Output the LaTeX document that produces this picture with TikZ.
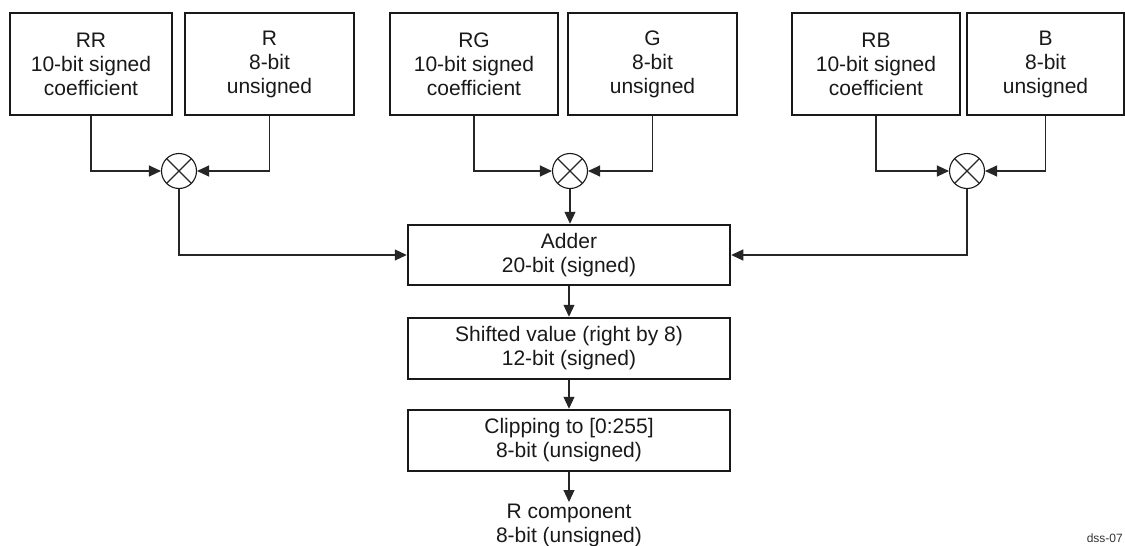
\documentclass[tikz,border=0pt]{standalone}
\usepackage{fontspec}
\setmainfont{Liberation Sans}
\usetikzlibrary{arrows.meta}
\begin{document}
\begin{tikzpicture}[x=1pt,y=-1pt,
  every node/.style={font=\fontsize{21}{24}\selectfont, text=black!90, align=center},
  srcbox/.style={draw=black!90, line width=2.5pt, minimum height=102pt, inner sep=0pt},
  procbox/.style={draw=black!90, line width=2.5pt, minimum width=322pt, minimum height=60pt, inner sep=0pt},
  mult/.style={draw=black!90, circle, line width=1.1pt, minimum size=35pt, inner sep=0pt},
  conn/.style={draw=black!85, line width=1.1pt, -{Triangle[length=12pt,width=11pt]}},
  plain/.style={draw=black!85, line width=1.1pt}
]
\useasboundingbox (0,0) rectangle (1125,546);
\fill[white] (0,0) rectangle (1125,546);

% source boxes
\node[srcbox, minimum width=162pt] (RR) at (91,64) {RR\\10-bit signed\\coefficient};
\node[srcbox, minimum width=169pt] (R)  at (269.5,64) {R\\8-bit\\unsigned};
\node[srcbox, minimum width=168pt] (RG) at (474,64) {RG\\10-bit signed\\coefficient};
\node[srcbox, minimum width=169pt] (G)  at (652.5,64) {G\\8-bit\\unsigned};
\node[srcbox, minimum width=168pt] (RB) at (876,64) {RB\\10-bit signed\\coefficient};
\node[srcbox, minimum width=157pt] (B)  at (1045.5,64) {B\\8-bit\\unsigned};

% multipliers
\foreach \n/\x in {m1/179, m2/570, m3/967} {
  \node[mult] (\n) at (\x,171) {};
  \draw[plain] (\n.north east) -- (\n.south west);
  \draw[plain] (\n.north west) -- (\n.south east);
}

% processing boxes
\node[procbox] (adder) at (569,255) {Adder\\20-bit (signed)};
\node[procbox, minimum height=61pt] (shift) at (569,348.5) {Shifted value (right by 8)\\12-bit (signed)};
\node[procbox, minimum height=61pt] (clip) at (569,440.5) {Clipping to [0:255]\\8-bit (unsigned)};
\node[anchor=north, inner sep=2pt] (out) at (569,502) {R component\\8-bit (unsigned)};

\node[anchor=base east, inner sep=0pt, font=\fontsize{12}{14}\selectfont, text=black!80] (tag) at (1123,542) {dss-07};

% connectors
\draw[conn] (RR.south) |- (m1.west);
\draw[conn] (R.south) |- (m1.east);
\draw[conn] (RG.south) |- (m2.west);
\draw[conn] (G.south) |- (m2.east);
\draw[conn] (RB.south) |- (m3.west);
\draw[conn] (B.south) |- (m3.east);

\draw[conn] (m1.south) |- (adder.west);
\draw[conn] (m2.south) -- (m2.south |- adder.north);
\draw[conn] (m3.south) |- (adder.east);

\draw[conn] (adder.south) -- (shift.north);
\draw[conn] (shift.south) -- (clip.north);
\draw[conn] (clip.south) -- (out.north);
\end{tikzpicture}
\end{document}
